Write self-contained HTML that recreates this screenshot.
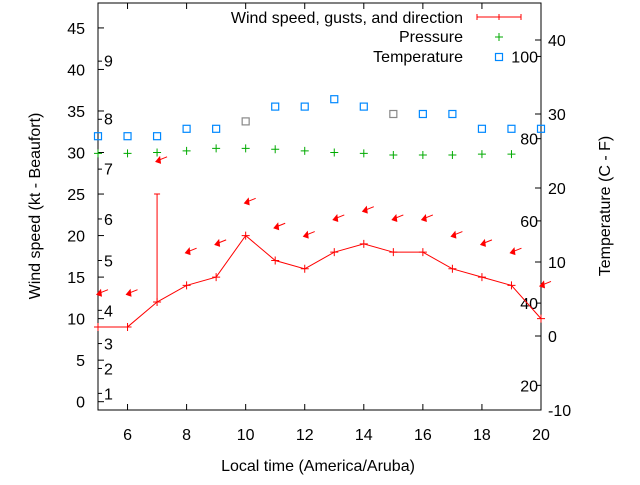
<!DOCTYPE html>
<html><head><meta charset="utf-8"><style>
body{margin:0;background:#fff}
svg text{font-family:"Liberation Sans",sans-serif;font-size:16px;fill:#000}
</style></head><body>
<svg id="c" width="640" height="480"></svg>
<script>
const hours=[5,6,7,8,9,10,11,12,13,14,15,16,17,18,19,20];
const windSpeed=[9,9,12,14,15,20,17,16,18,19,18,18,16,15,14,10];
const gustHours=[7];
const gustValues=[25];
const dirArrowLevel=[13,13,29,18,19,24,21,20,22,23,22,22,20,19,18,14];
const pressureHours=[5,6,7,8,9,10,11,12,13,14,15,16,17,18,19];
const pressure=[29.9,29.9,30.0,30.2,30.5,30.5,30.4,30.2,30.0,29.9,29.7,29.7,29.7,29.8,29.8];
const temperature=[27,27,27,28,28,29,31,31,32,31,30,30,30,28,28,28];
const tempGrey=[0,0,0,0,0,1,0,0,0,0,1,0,0,0,0,0];
const leftTicks=[0,5,10,15,20,25,30,35,40,45];
const rightTicks=[-10,0,10,20,30,40];
const xTicks=[6,8,10,12,14,16,18,20];
const beaufortLabels=[1,2,3,4,5,6,7,8,9];
const beaufortMid=[1,4,7,11,17,22,28.1,34.1,41.1];
const beaufortEdges=[1,4,7,11,17,22,28,34,41,48];
const fahrenheit=[20,40,60,80,100];
const L=98,R=541,T=3,B=410;
const xs=h=>L+(h-5)/15*(R-L);
const yl=v=>B-(v+1)/49*(B-T);
const yr=v=>B-(v+10)/55*(B-T);
const svg=document.getElementById('c');const NS='http://www.w3.org/2000/svg';
function mk(t,a,p){const e=document.createElementNS(NS,t);for(const k in a)e.setAttribute(k,a[k]);(p||svg).appendChild(e);return e;}
function txt(x,y,s,anc,extra){const e=mk('text',Object.assign({x:x,y:y,'text-anchor':anc||'start'},extra||{}));e.textContent=s;return e;}
let e;
e=mk('rect',{x:L,y:T,width:R-L,height:B-T,fill:'none',stroke:'#000','stroke-width':1});


leftTicks.forEach(v=>{const y=yl(v);mk('line',{x1:L,y1:y,x2:L+6,y2:y,stroke:'#000'});e=txt(85,y+6,String(v),'end');

});
rightTicks.forEach(v=>{const y=yr(v);mk('line',{x1:R-6,y1:y,x2:R,y2:y,stroke:'#000'});e=txt(548,y+6,String(v),'start');

});
xTicks.forEach(v=>{const x=xs(v);mk('line',{x1:x,y1:B,x2:x,y2:B-6,stroke:'#000'});mk('line',{x1:x,y1:T,x2:x,y2:T+6,stroke:'#000'});e=txt(x,440,String(v),'middle');

});
beaufortEdges.forEach(v=>{const y=yl(v);mk('line',{x1:L,y1:y,x2:L+4,y2:y,stroke:'#000'});});
beaufortLabels.forEach((b,i)=>{e=txt(104,yl(beaufortMid[i])+6,String(b),'start');

});
fahrenheit.forEach(f=>{const c=(f-32)*5/9;const y=yr(c);mk('line',{x1:R-4,y1:y,x2:R,y2:y,stroke:'#000'});e=txt(538,y+6,String(f),'end');

});
e=txt(318,471,'Local time (America/Aruba)','middle');


e=txt(0,0,'Wind speed (kt - Beaufort)','middle',{transform:'translate(40,206) rotate(-90)'});


e=txt(0,0,'Temperature (C - F)','middle',{transform:'translate(610,206) rotate(-90)'});


e=mk('polyline',{points:hours.map((h,i)=>xs(h)+','+yl(windSpeed[i])).join(' '),fill:'none',stroke:'#f00'});


mk('line',{x1:L,y1:yl(windSpeed[0]),x2:xs(6),y2:yl(windSpeed[0]),stroke:'#f00'});
hours.forEach((h,i)=>{const x=xs(h),y=yl(windSpeed[i]);e=mk('path',{d:`M${x-4},${y}h8M${x},${y-4}v8`,stroke:'#f00'});

});
gustHours.forEach((h,i)=>{const x=xs(h);const w=windSpeed[hours.indexOf(h)];e=mk('path',{d:`M${x},${yl(w)}V${yl(gustValues[i])}M${x-3},${yl(gustValues[i])}h6`,stroke:'#f00'});

});
hours.forEach((h,i)=>{const x=xs(h),y=yl(dirArrowLevel[i]);const g=mk('g',{});


mk('line',{x1:x,y1:y,x2:x+10,y2:y-4,stroke:'#f00'},g);mk('polygon',{points:`${x-2},${y+1} ${x+3},${y-5} ${x+4},${y+3}`,fill:'#f00'},g);});
pressureHours.forEach((h,i)=>{const x=xs(h),y=yl(pressure[i]);e=mk('path',{d:`M${x-4},${y}h8M${x},${y-4}v8`,stroke:'#0a0'});

});
hours.forEach((h,i)=>{const x=xs(h),y=yr(temperature[i]);e=mk('rect',{x:x-3.5,y:y-3.5,width:7,height:7,fill:'none',stroke:tempGrey[i]?'#888':'#08f','stroke-width':1.2});

});
const lg=mk('g',{});


[['Wind speed, gusts, and direction',23],['Pressure',42],['Temperature',62]].forEach(([s,y])=>{const t=mk('text',{x:463,y:y,'text-anchor':'end'},lg);t.textContent=s;});
mk('path',{d:'M477,17h44M477,14v6M521,14v6M499,14v6',stroke:'#f00'},lg);
mk('path',{d:'M495,37h8M499,33v8',stroke:'#0a0'},lg);
mk('rect',{x:495.5,y:53.5,width:7,height:7,fill:'none',stroke:'#08f','stroke-width':1.2},lg);
</script>
</body></html>
